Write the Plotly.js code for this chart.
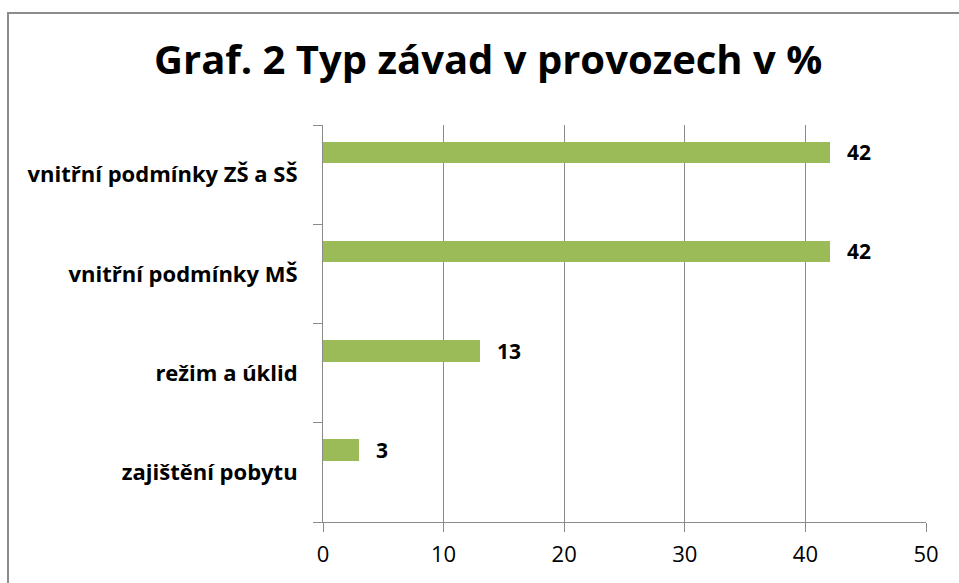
<!DOCTYPE html>
<html>
<head>
<meta charset="utf-8">
<script src="https://cdn.plot.ly/plotly-3.0.1.min.js"></script>
<style>
  html, body { margin: 0; padding: 0; background: #fff; overflow: hidden; }
  #frame { position: absolute; left: 7px; top: 12px; width: 1000px; height: 700px; border: 2px solid #8c8c8c; box-sizing: border-box; }
  #chart { position: absolute; left: 0; top: 0; width: 959px; height: 583px; }
</style>
</head>
<body>
<div id="frame"></div>
<div id="chart"></div>
<script>
// Data (bottom to top order as drawn by Plotly)
const categories = ["zajištění pobytu", "režim a úklid", "vnitřní podmínky MŠ", "vnitřní podmínky ZŠ a SŠ"];
const values = [3, 13, 42, 42];
const xTicks = [0, 10, 20, 30, 40, 50];
const chartTitle = "Graf. 2 Typ závad v provozech v %";

const FONT = "Open Sans, Noto Sans, sans-serif";

const trace = {
  type: "bar",
  orientation: "h",
  y: categories,
  x: values,
  offset: 0.115,
  width: 0.217,
  marker: { color: "#9BBB59", line: { width: 0 } },
  hoverinfo: "none",
  cliponaxis: false
};

const annotations = categories.map((c, i) => ({
  x: values[i],
  y: c,
  yshift: 22.5,
  xshift: 15,
  xref: "x",
  yref: "y",
  text: "<b>" + values[i] + "</b>",
  showarrow: false,
  xanchor: "left",
  yanchor: "middle",
  font: { family: FONT, size: 21, color: "#000" }
}));

const layout = {
  width: 959,
  height: 583,
  margin: { l: 323, r: 33, t: 125, b: 61 },
  paper_bgcolor: "rgba(0,0,0,0)",
  plot_bgcolor: "rgba(0,0,0,0)",
  showlegend: false,
  title: {
    text: "<b>" + chartTitle + "</b>",
    x: 0.509,
    xanchor: "center",
    y: 0.897,
    yanchor: "middle",
    font: { family: FONT, size: 40, color: "#000" }
  },
  xaxis: {
    range: [0, 50],
    tickvals: xTicks,
    ticktext: xTicks.map(String),
    showgrid: true,
    gridcolor: "#8a8a8a",
    gridwidth: 1,
    zeroline: false,
    showline: true,
    linecolor: "#8a8a8a",
    linewidth: 1,
    ticks: "outside",
    ticklen: 9,
    tickcolor: "#8a8a8a",
    ticklabelstandoff: 4,
    tickfont: { family: FONT, size: 22, color: "#000" },
    fixedrange: true
  },
  yaxis: {
    type: "category",
    categoryorder: "array",
    categoryarray: categories,
    range: [-0.5, 3.5],
    showgrid: false,
    zeroline: false,
    showline: true,
    linecolor: "#8a8a8a",
    linewidth: 1,
    ticks: "outside",
    tickson: "boundaries",
    ticklen: 9,
    tickcolor: "#8a8a8a",
    ticklabelstandoff: 20,
    tickfont: { family: FONT, size: 22, color: "#000", weight: "bold" },
    fixedrange: true
  },
  annotations: annotations,
  bargap: 0
};

Plotly.newPlot("chart", [trace], layout, { displayModeBar: false, staticPlot: true });
</script>
</body>
</html>
